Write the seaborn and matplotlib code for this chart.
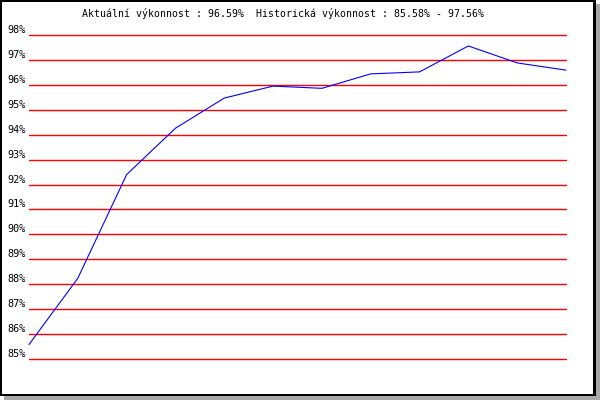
import matplotlib
matplotlib.use("Agg")
import matplotlib.pyplot as plt
from matplotlib.patches import Rectangle
import pandas as pd
import seaborn as sns

# performance history (%)
points = list(range(12))
performance = [85.58, 88.24, 92.40, 94.26, 95.47, 95.95, 95.86, 96.44, 96.52, 97.56, 96.88, 96.59]
grid_levels = [85, 86, 87, 88, 89, 90, 91, 92, 93, 94, 95, 96, 97, 98]
grid_labels = [f"{v}%" for v in grid_levels]
title = "Aktuální výkonnost : 96.59%  Historická výkonnost : 85.58% - 97.56%"

df = pd.DataFrame({"point": points, "performance": performance})

sns.set_theme(style="white")
plt.rcParams['font.family'] = ['DejaVu Sans Mono', 'DejaVu Sans']

W, H = 600, 400
fig = plt.figure(figsize=(6, 4), dpi=100, facecolor="white")


def px_rect(x0, y0, x1, y1, color):
    # pixel coords measured from top-left
    fig.patches.append(Rectangle((x0 / W, 1 - y1 / H), (x1 - x0) / W, (y1 - y0) / H,
                                 transform=fig.transFigure, facecolor=color,
                                 edgecolor="none", zorder=-5))


# shadow + frame
px_rect(596, 4, 600, 400, "#a8a8a8")
px_rect(4, 396, 600, 400, "#a8a8a8")
px_rect(0, 0, 596, 396, "black")
px_rect(2, 2, 593, 394, "white")

# plot area: 98% at y=35px, 85% at y=359px, x from 29px to 566px
ax = fig.add_axes([29 / W, 1 - 359 / H, (566 - 29) / W, (359 - 35) / H])
ax.set_zorder(5)
ax.patch.set_visible(False)
ax.set_xlim(0, 11)
ax.set_ylim(85, 98)

for lvl, lab in zip(grid_levels, grid_labels):
    ax.axhline(lvl, color="#ff0000", linewidth=1.0, zorder=1, clip_on=False)
    ax.annotate(lab, xy=(0, lvl), xycoords=("axes fraction", "data"),
                xytext=(-2.2, 0.0), textcoords="offset points",
                ha="right", va="bottom", fontsize=7.3, color="black",
                annotation_clip=False)

sns.lineplot(data=df, x="point", y="performance", ax=ax, color="#0000ff",
             linewidth=0.8, zorder=3, clip_on=False)
for s in ax.spines.values():
    s.set_visible(False)
ax.set_xticks([])
ax.set_yticks([])
ax.set_xlabel("")
ax.set_ylabel("")

fig.text(82 / W, 1 - 17 / H, title, ha="left", va="baseline", fontsize=7.1,
         color="black", zorder=10)

plt.savefig("out.png", dpi=100)
